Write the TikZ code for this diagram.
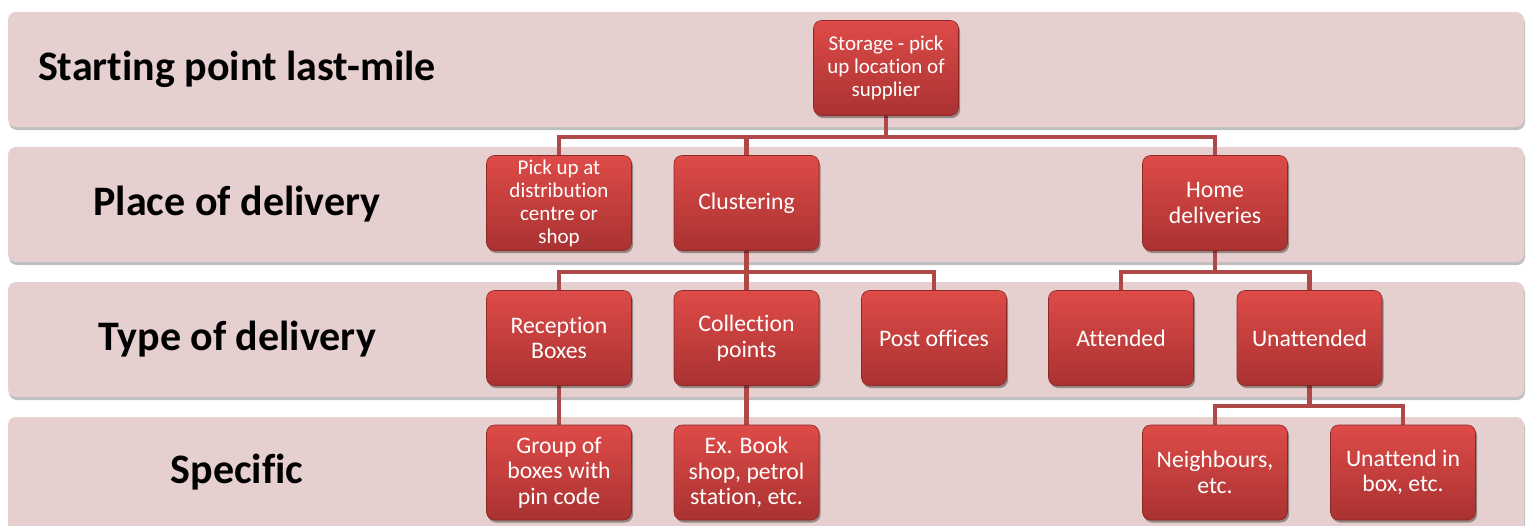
\documentclass[tikz,border=0pt]{standalone}
\usepackage{fontspec}
\setmainfont{Carlito}[RawFeature={-liga;-clig;-calt;-dlig;-hlig}]
\usetikzlibrary{shadows}
\pgfdeclarelayer{bandlayer}
\pgfdeclarelayer{connlayer}
\pgfsetlayers{bandlayer,connlayer,main}
\definecolor{bandcol}{HTML}{E6CFCF}
\definecolor{conncol}{HTML}{B04848}
\definecolor{boxtop}{HTML}{DE4B48}
\definecolor{boxbot}{HTML}{A93231}
\definecolor{boxedge}{HTML}{8C2828}
\tikzset{
  band/.style={fill=bandcol, draw=none, rounded corners=8pt,
    drop shadow={shadow xshift=1pt, shadow yshift=-3pt, opacity=0.5, fill=gray}},
  bandlabel/.style={font=\fontsize{42}{50}\selectfont\bfseries, text=black, anchor=center},
  rbox/.style={rectangle, rounded corners=8pt, minimum width=145pt, minimum height=95pt,
    inner sep=2pt, top color=boxtop, bottom color=boxbot, draw=boxedge, line width=0.6pt,
    text=white, align=center, font=\fontsize{23.7}{25.5}\selectfont,
    drop shadow={shadow xshift=1.5pt, shadow yshift=-2.5pt, opacity=0.35, fill=black}},
  smallbox/.style={rbox, font=\fontsize{21}{23}\selectfont},
  conn/.style={draw=conncol, line width=4.5pt},
}
\begin{document}
\begin{tikzpicture}[x=1pt,y=-1pt]
\useasboundingbox (0,0) rectangle (1528,525);
\clip (0,0) rectangle (1528,525);
% bands
\begin{pgfonlayer}{bandlayer}
\path[band] (8,12) rectangle (1524,127);
\path[band] (8,147) rectangle (1524,262);
\path[band] (8,282) rectangle (1524,397);
\path[band] (8,417) rectangle (1524,540);
\end{pgfonlayer}
% band labels
\node[bandlabel] (l1) at (237,69) {Starting point last-mile};
\node[bandlabel] (l2) at (237,204) {Place of delivery};
\node[bandlabel] (l3) at (237,339) {Type of delivery};
\node[bandlabel] (l4) at (237,472) {Specific};
% nodes
\node[smallbox] (storage) at (886,68) {Storage - pick\\up location of\\supplier};
\node[smallbox] (pick) at (559,203) {Pick up at\\distribution\\centre or\\shop};
\node[rbox] (clus) at (746.5,203) {Clustering};
\node[rbox] (home) at (1215,203) {Home\\deliveries};
\node[rbox] (rec) at (559,338) {Reception\\Boxes};
\node[rbox] (coll) at (746.5,338) {Collection\\points};
\node[rbox] (post) at (934,338) {Post offices};
\node[rbox] (att) at (1121,338) {Attended};
\node[rbox] (unatt) at (1309.5,338) {Unattended};
\node[rbox] (grp) at (559,472.5) {Group of\\boxes with\\pin code};
\node[rbox] (ex) at (746.5,472.5) {Ex. Book\\shop, petrol\\station, etc.};
\node[rbox] (neigh) at (1215,472.5) {Neighbours,\\etc.};
\node[rbox] (ubox) at (1403,472.5) {Unattend in\\box, etc.};
% bar coordinates
\coordinate (b1) at (886,137);
\coordinate (b2) at (746.5,272);
\coordinate (b3) at (1215,272);
\coordinate (b4) at (1309.5,406);
% connectors (behind nodes)
\begin{pgfonlayer}{connlayer}
\draw[conn] (storage.south) -- (b1);
\draw[conn] (pick.north) |- (b1) -| (home.north);
\draw[conn] (clus.north) -- (clus.north |- b1);
\draw[conn] (clus.south) -- (b2);
\draw[conn] (rec.north) |- (b2) -| (post.north);
\draw[conn] (b2) -- (coll.north);
\draw[conn] (home.south) -- (b3);
\draw[conn] (att.north) |- (b3) -| (unatt.north);
\draw[conn] (rec.south) -- (grp.north);
\draw[conn] (coll.south) -- (ex.north);
\draw[conn] (unatt.south) -- (b4);
\draw[conn] (neigh.north) |- (b4) -| (ubox.north);
\end{pgfonlayer}
\end{tikzpicture}
\end{document}
